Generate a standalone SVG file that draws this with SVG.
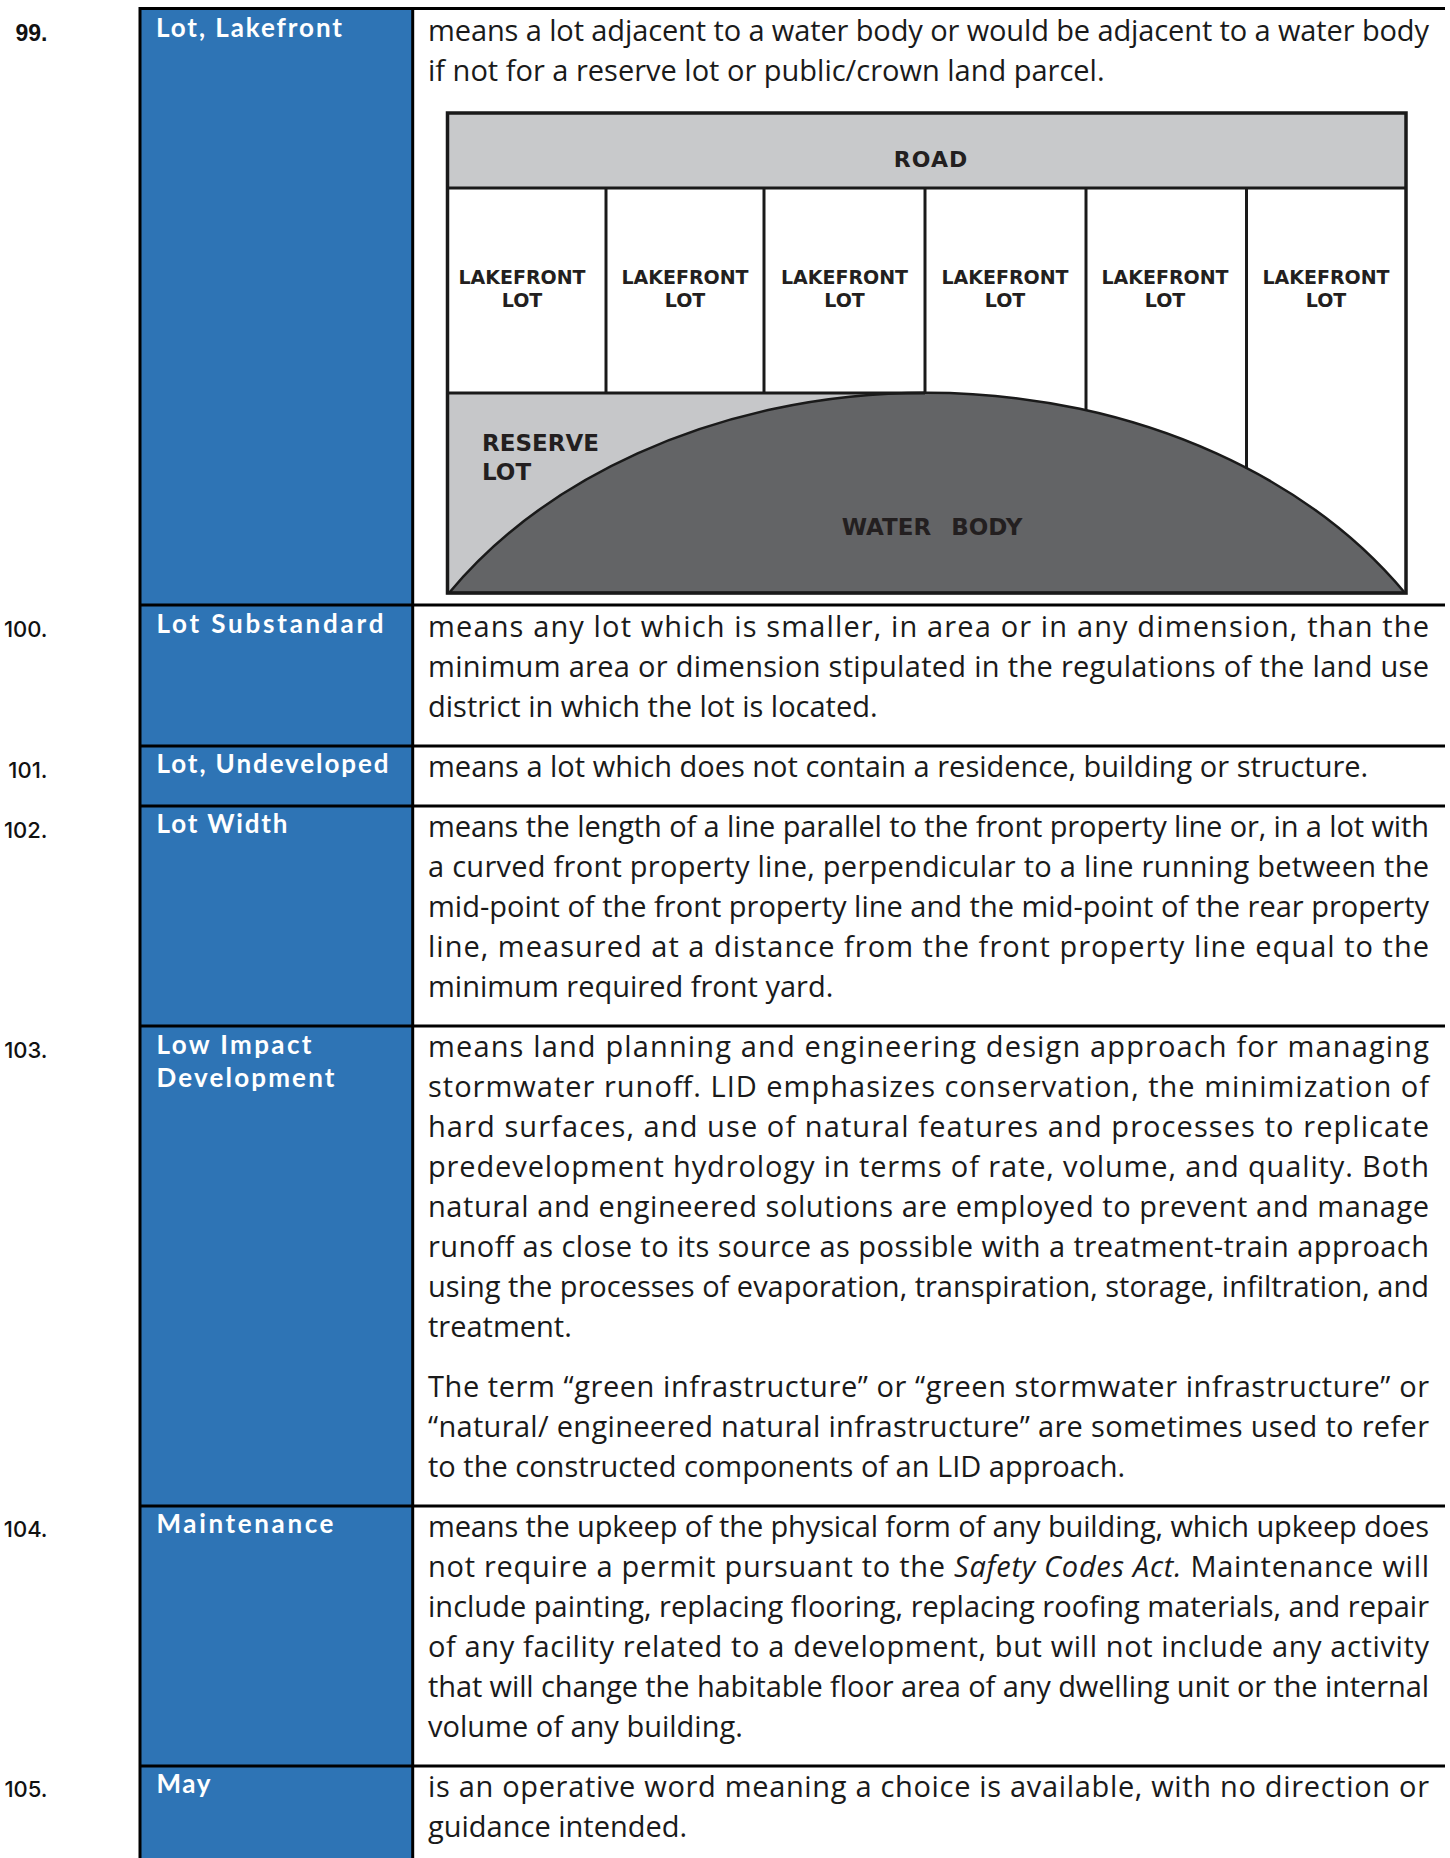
<svg xmlns="http://www.w3.org/2000/svg" width="1450" height="1858" viewBox="0 0 1450 1858">
<style>
.num{font-family:Inter,"Liberation Sans",sans-serif;font-weight:500;font-size:22px;fill:#111;text-anchor:end}
.ttl{font-family:Lato,"Open Sans",sans-serif;font-weight:700;font-size:26px;fill:#fff}
.b{font-family:"Open Sans","Liberation Sans",sans-serif;font-size:29px;fill:#1a1a1a}
.dl{font-family:"DejaVu Sans","Liberation Sans",sans-serif;font-weight:700;fill:#231f20;text-anchor:middle}
.ln{stroke:#000;stroke-width:3;fill:none}
.dg{stroke:#1a1a1a;stroke-width:3;fill:none}
</style>
<rect x="0" y="0" width="1450" height="1858" fill="#fff"/>
<rect x="140" y="8.5" width="272.7" height="1849.5" fill="#2e74b5"/>

<g id="table-lines">
<line class="ln" x1="140" y1="8.5" x2="1445" y2="8.5"/>
<line class="ln" x1="140" y1="605" x2="1445" y2="605"/>
<line class="ln" x1="140" y1="746" x2="1445" y2="746"/>
<line class="ln" x1="140" y1="806" x2="1445" y2="806"/>
<line class="ln" x1="140" y1="1026" x2="1445" y2="1026"/>
<line class="ln" x1="140" y1="1506" x2="1445" y2="1506"/>
<line class="ln" x1="140" y1="1766" x2="1445" y2="1766"/>
<line class="ln" x1="140" y1="7" x2="140" y2="1858"/>
<line class="ln" x1="412.7" y1="7" x2="412.7" y2="1858"/>
</g>

<g id="row-99">
<text class="num" x="47.5" y="40.7" style="font-family:'Liberation Sans',sans-serif;font-weight:700;font-size:23px">99.</text>
<text class="ttl" x="156" y="37.2" textLength="186" lengthAdjust="spacing">Lot, Lakefront</text>
<text class="b" x="428" y="40.7" textLength="1001" lengthAdjust="spacing">means a lot adjacent to a water body or would be adjacent to a water body</text>
<text class="b" x="428" y="80.7">if not for a reserve lot or public/crown land parcel.</text>
</g>

<g id="lakefront-diagram">
<rect x="447.5" y="113" width="958.5" height="75" fill="#c8c9cb"/>
<rect x="447.5" y="393" width="478" height="200" fill="#c6c7c9"/>
<path d="M449 593 A566 431 0 0 1 1405 593 Z" fill="#636466" stroke="#1a1a1a" stroke-width="2.5"/>
<line class="dg" x1="447.5" y1="188" x2="1406" y2="188"/>
<line class="dg" x1="447.5" y1="393" x2="925" y2="393"/>
<line class="dg" x1="606" y1="188" x2="606" y2="393"/>
<line class="dg" x1="764" y1="188" x2="764" y2="393"/>
<line class="dg" x1="925" y1="188" x2="925" y2="393"/>
<line class="dg" x1="1086" y1="188" x2="1086" y2="410.5"/>
<line class="dg" x1="1246.5" y1="188" x2="1246.5" y2="468.5"/>
<rect x="447.5" y="113" width="958.5" height="480" fill="none" stroke="#1a1a1a" stroke-width="3.5"/>
<text class="dl" x="931" y="167" style="font-size:22px;letter-spacing:1px">ROAD</text>
<text class="dl" style="font-size:19px"><tspan x="522" y="284">LAKEFRONT</tspan><tspan x="522" y="307">LOT</tspan></text>
<text class="dl" style="font-size:19px"><tspan x="685" y="284">LAKEFRONT</tspan><tspan x="685" y="307">LOT</tspan></text>
<text class="dl" style="font-size:19px"><tspan x="844.5" y="284">LAKEFRONT</tspan><tspan x="844.5" y="307">LOT</tspan></text>
<text class="dl" style="font-size:19px"><tspan x="1005" y="284">LAKEFRONT</tspan><tspan x="1005" y="307">LOT</tspan></text>
<text class="dl" style="font-size:19px"><tspan x="1165" y="284">LAKEFRONT</tspan><tspan x="1165" y="307">LOT</tspan></text>
<text class="dl" style="font-size:19px"><tspan x="1326" y="284">LAKEFRONT</tspan><tspan x="1326" y="307">LOT</tspan></text>
<text class="dl" style="font-size:23px;text-anchor:start"><tspan x="482" y="450.5">RESERVE</tspan><tspan x="482" y="480">LOT</tspan></text>
<text class="dl" x="932" y="534.5" style="font-size:23px;word-spacing:12px">WATER BODY</text>
</g>

<g id="row-100">
<text class="num" x="47.5" y="637">100.</text>
<text class="ttl" x="156.5" y="632.7" textLength="227" lengthAdjust="spacing">Lot Substandard</text>
<text class="b" x="428" y="636.7" textLength="1001" lengthAdjust="spacing">means any lot which is smaller, in area or in any dimension, than the</text>
<text class="b" x="428" y="676.7" textLength="1001" lengthAdjust="spacing">minimum area or dimension stipulated in the regulations of the land use</text>
<text class="b" x="428" y="716.7">district in which the lot is located.</text>
</g>

<g id="row-101">
<text class="num" x="47.5" y="778">101.</text>
<text class="ttl" x="156.5" y="773.3" textLength="232" lengthAdjust="spacing">Lot, Undeveloped</text>
<text class="b" x="428" y="776.7">means a lot which does not contain a residence, building or structure.</text>
</g>

<g id="row-102">
<text class="num" x="47.5" y="838">102.</text>
<text class="ttl" x="156.5" y="833.3" textLength="131" lengthAdjust="spacing">Lot Width</text>
<text class="b" x="428" y="836.7" textLength="1001" lengthAdjust="spacing">means the length of a line parallel to the front property line or, in a lot with</text>
<text class="b" x="428" y="876.7" textLength="1001" lengthAdjust="spacing">a curved front property line, perpendicular to a line running between the</text>
<text class="b" x="428" y="916.7" textLength="1001" lengthAdjust="spacing">mid-point of the front property line and the mid-point of the rear property</text>
<text class="b" x="428" y="956.7" textLength="1001" lengthAdjust="spacing">line, measured at a distance from the front property line equal to the</text>
<text class="b" x="428" y="996.7">minimum required front yard.</text>
</g>

<g id="row-103">
<text class="num" x="47.5" y="1058">103.</text>
<text class="ttl" x="156.5" y="1054" textLength="155" lengthAdjust="spacing">Low Impact</text>
<text class="ttl" x="156.5" y="1087.3" textLength="178" lengthAdjust="spacing">Development</text>
<text class="b" x="428" y="1056.7" textLength="1001" lengthAdjust="spacing">means land planning and engineering design approach for managing</text>
<text class="b" x="428" y="1096.7" textLength="1001" lengthAdjust="spacing">stormwater runoff. LID emphasizes conservation, the minimization of</text>
<text class="b" x="428" y="1136.7" textLength="1001" lengthAdjust="spacing">hard surfaces, and use of natural features and processes to replicate</text>
<text class="b" x="428" y="1176.7" textLength="1001" lengthAdjust="spacing">predevelopment hydrology in terms of rate, volume, and quality. Both</text>
<text class="b" x="428" y="1216.7" textLength="1001" lengthAdjust="spacing">natural and engineered solutions are employed to prevent and manage</text>
<text class="b" x="428" y="1256.7" textLength="1001" lengthAdjust="spacing">runoff as close to its source as possible with a treatment-train approach</text>
<text class="b" x="428" y="1296.7" textLength="1001" lengthAdjust="spacing">using the processes of evaporation, transpiration, storage, infiltration, and</text>
<text class="b" x="428" y="1336.7">treatment.</text>
<text class="b" x="428" y="1396.7" textLength="1001" lengthAdjust="spacing">The term “green infrastructure” or “green stormwater infrastructure” or</text>
<text class="b" x="428" y="1436.7" textLength="1001" lengthAdjust="spacing">“natural/ engineered natural infrastructure” are sometimes used to refer</text>
<text class="b" x="428" y="1476.7">to the constructed components of an LID approach.</text>
</g>

<g id="row-104">
<text class="num" x="47.5" y="1537.3">104.</text>
<text class="ttl" x="156.5" y="1533.3" textLength="177" lengthAdjust="spacing">Maintenance</text>
<text class="b" x="428" y="1536.7" textLength="1001" lengthAdjust="spacing">means the upkeep of the physical form of any building, which upkeep does</text>
<text class="b" x="428" y="1576.7" textLength="1001" lengthAdjust="spacing">not require a permit pursuant to the <tspan font-style="italic">Safety Codes Act.</tspan> Maintenance will</text>
<text class="b" x="428" y="1616.7" textLength="1001" lengthAdjust="spacing">include painting, replacing flooring, replacing roofing materials, and repair</text>
<text class="b" x="428" y="1656.7" textLength="1001" lengthAdjust="spacing">of any facility related to a development, but will not include any activity</text>
<text class="b" x="428" y="1696.7" textLength="1001" lengthAdjust="spacing">that will change the habitable floor area of any dwelling unit or the internal</text>
<text class="b" x="428" y="1736.7">volume of any building.</text>
</g>

<g id="row-105">
<text class="num" x="47.5" y="1797.3">105.</text>
<text class="ttl" x="156.5" y="1793.3" textLength="54" lengthAdjust="spacing">May</text>
<text class="b" x="428" y="1796.7" textLength="1001" lengthAdjust="spacing">is an operative word meaning a choice is available, with no direction or</text>
<text class="b" x="428" y="1836.7">guidance intended.</text>
</g>
</svg>
